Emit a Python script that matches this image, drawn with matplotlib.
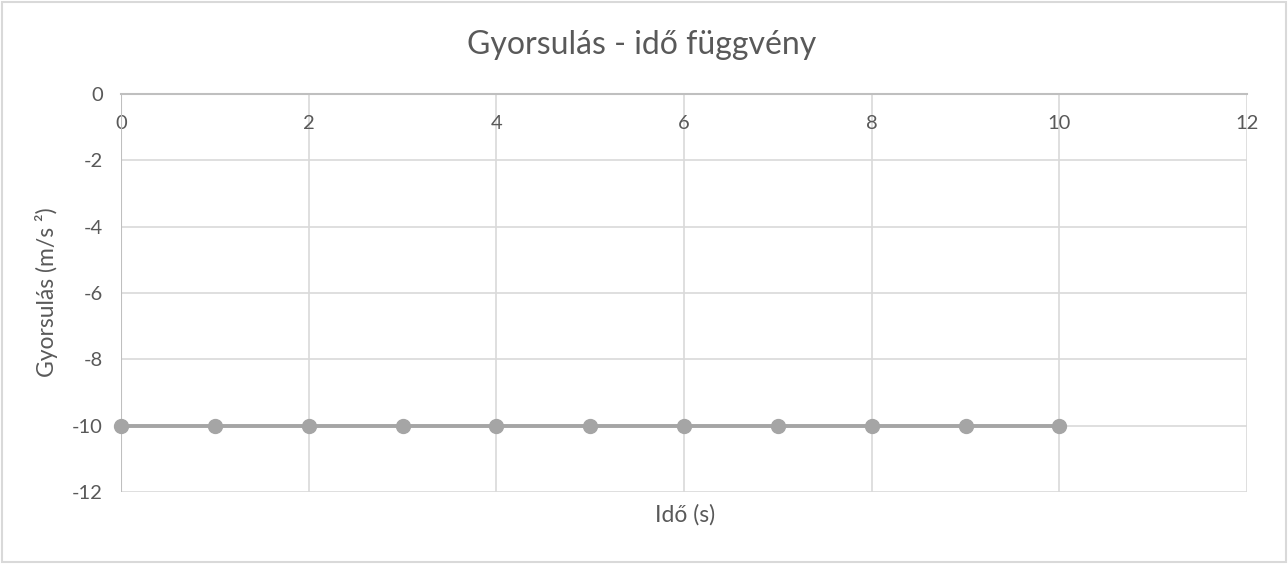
import numpy as np
import matplotlib
matplotlib.use("Agg")
import matplotlib.pyplot as plt
from matplotlib.patches import Rectangle

plt.rcParams['font.family'] = ['Lato', 'DejaVu Sans']
plt.rcParams['axes.unicode_minus'] = False

# Data
ido = [0, 1, 2, 3, 4, 5, 6, 7, 8, 9, 10]
gyorsulas = [-10, -10, -10, -10, -10, -10, -10, -10, -10, -10, -10]
x_ticks = [0, 2, 4, 6, 8, 10, 12]
y_ticks = [0, -2, -4, -6, -8, -10, -12]

text_col = "#595959"
grid_col = "#d9d9d9"
axis_col = "#bfbfbf"

fig = plt.figure(figsize=(12.88, 5.64), dpi=100)
ax = fig.add_axes([121/1288, 1 - 492/564, (1247 - 121)/1288, (492 - 94)/564])

ax.plot(ido, gyorsulas, color="#a5a5a5", linewidth=2.8, marker="o",
        markersize=10, zorder=3, clip_on=False)

ax.set_xlim(0, 12)
ax.set_ylim(-12, 0)
ax.set_xticks(x_ticks)
ax.set_yticks(y_ticks)

# gridlines
for v in x_ticks[1:]:
    ax.axvline(v, color=grid_col, linewidth=1.2, zorder=1)
for v in y_ticks[1:]:
    ax.axhline(v, color=grid_col, linewidth=1.2, zorder=1)

for s in ["top", "right", "left"]:
    ax.spines[s].set_visible(False)
ax.spines["bottom"].set_position(("data", 0))
ax.spines["bottom"].set_color(axis_col)
ax.spines["bottom"].set_linewidth(1.5)
ax.axvline(0, color=axis_col, linewidth=1.5, zorder=2)

ax.tick_params(axis="x", length=0, pad=15, labelsize=14.5, labelcolor=text_col)
ax.tick_params(axis="y", length=0, pad=13, labelsize=14.5, labelcolor=text_col)

fig.text(642/1288, 1 - 45/564, "Gyorsulás - idő függvény", ha="center",
         va="center", fontsize=23, color=text_col)
fig.text(47/1288, 1 - 292/564, "Gyorsulás (m/s ²)", rotation=90,
         ha="center", va="center", fontsize=16.5, color=text_col)
fig.text(685/1288, 1 - 515/564, "Idő (s)", ha="center", va="center",
         fontsize=16.5, color=text_col)

# outer frame
fig.patches.append(Rectangle((2/1288, 2/564), 1284/1288, 560/564,
                             transform=fig.transFigure, fill=False,
                             edgecolor=grid_col, linewidth=1.5))

fig.savefig("out.png", dpi=100)
